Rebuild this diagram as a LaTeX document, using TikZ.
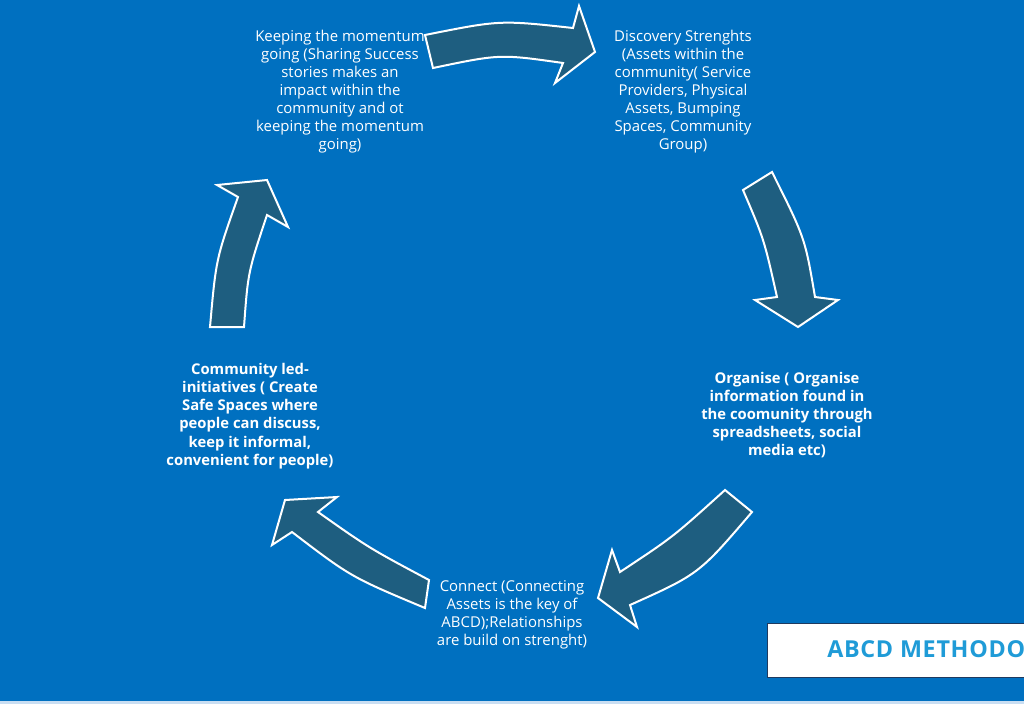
\documentclass[tikz,border=0pt]{standalone}
\usepackage{fontspec}
\setmainfont{Open Sans}
\definecolor{bg}{HTML}{0070C0}
\definecolor{arrowfill}{HTML}{1E5E80}
\definecolor{boxtext}{HTML}{1F9BD7}
\definecolor{boxline}{HTML}{1F3A5F}
\definecolor{strip}{HTML}{C9DEF2}
\tikzset{
  blockarrow/.style={fill=arrowfill, draw=white, line width=1.5pt, line join=miter},
  steptext/.style={text=white, align=center, font=\fontsize{11.2}{13.5}\selectfont, inner sep=0pt},
  boldtext/.style={text=white, align=center, font=\bfseries\fontsize{11.1}{13.6}\selectfont, inner sep=0pt},
}
\begin{document}
\begin{tikzpicture}[x=0.75pt,y=-0.75pt]
\useasboundingbox (0,0) rectangle (1024,704);
\begin{scope}
\clip (0,0) rectangle (1024,704);
\fill[bg] (0,0) rectangle (1024,704);
\fill[strip] (0,701) rectangle (1024,704);

% block arrows
\draw[blockarrow] (425,35) .. controls (500,20) .. (573,28) -- (579,6) -- (595,52) -- (555,83) -- (563,63) .. controls (500,54) .. (433,68) -- cycle;
\draw[blockarrow] (772,172) .. controls (805,238) .. (815,297) -- (838,300) -- (798,327) -- (755,300) -- (777,297) .. controls (764,239) .. (743,190) -- cycle;
\draw[blockarrow] (725,490) .. controls (673,537) .. (620,572) -- (612,550) -- (598,598) -- (637,627) -- (630,605) .. controls (699,574) .. (752,512) -- cycle;
\draw[blockarrow] (429,580) .. controls (369,548) .. (318,512) -- (337,497) -- (285,500) -- (272,545) -- (292,532) .. controls (351,577) .. (425,608) -- cycle;
\draw[blockarrow] (210,327) .. controls (216,259) .. (238,197) -- (217,185) -- (267,180) -- (288,227) -- (267,215) .. controls (248,272) .. (244,327) -- cycle;

% texts
\node[steptext] (keep) at (340,92) {Keeping the momentum\\going (Sharing Success\\stories makes an\\impact within the\\community and ot\\keeping the momentum\\going)};
\node[steptext] (disc) at (683,92) {Discovery Strenghts\\(Assets within the\\community( Service\\Providers, Physical\\Assets, Bumping\\Spaces, Community\\Group)};
\node[boldtext] (org) at (787,415) {Organise ( Organise\\information found in\\the coomunity through\\spreadsheets, social\\media etc)};
\node[boldtext] (comm) at (250,416) {Community led-\\initiatives ( Create\\Safe Spaces where\\people can discuss,\\keep it informal,\\convenient for people)};
\node[steptext] (conn) at (512,615) {Connect (Connecting\\Assets is the key of\\ABCD);Relationships\\are build on strenght)};

% title box
\draw[fill=white, draw=boxline, line width=0.75pt] (767,623) rectangle (1030,677);
\node[anchor=base west, inner sep=0pt, text=boxtext, font=\bfseries\fontsize{17.5}{20}\selectfont\addfontfeature{LetterSpace=3}] (title) at (827,657) {ABCD METHODOLOGY};
\end{scope}
\end{tikzpicture}
\end{document}
